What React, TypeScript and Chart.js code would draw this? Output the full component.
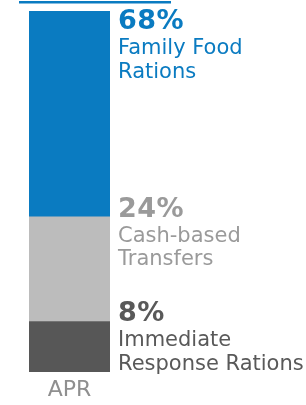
import React, { useEffect, useRef } from "react";
import { Chart, registerables } from "chart.js";

Chart.register(...registerables);

const categories = ["APR"];
const programmes = ["Immediate Response Rations", "Cash-based Transfers", "Family Food Rations"];
const nameLines = [["Immediate", "Response Rations"], ["Cash-based", "Transfers"], ["Family Food", "Rations"]];
const shareLabels = [8, 24, 68];
const barHeights = [14, 29, 57];
const barColors = ["#575757", "#bcbcbc", "#0a7bc1"];
const textColors = ["#595959", "#9a9a9a", "#0a7bc1"];

const labelPlugin = {
  id: "sideLabels",
  afterDatasetsDraw(chart: any) {
    const ctx = chart.ctx;
    const area = chart.chartArea;
    ctx.save();
    // decorative top rule
    ctx.fillStyle = barColors[2];
    ctx.fillRect(area.left - 10, 1, 152, 2.5);
    chart.data.datasets.forEach((ds: any, i: number) => {
      const el = chart.getDatasetMeta(i).data[0];
      if (!el) return;
      const p = el.getProps(["x", "y", "base", "width"], true);
      const top = Math.min(p.y, p.base);
      const x = p.x + p.width / 2 + 8;
      const pctY = Math.max(top, area.top + 18);
      ctx.fillStyle = textColors[i];
      ctx.textAlign = "left";
      ctx.textBaseline = "alphabetic";
      ctx.font = "bold 27px 'DejaVu Sans'";
      (ctx as any).letterSpacing = "0.5px";
      ctx.fillText(shareLabels[i] + "%", x, pctY);
      (ctx as any).letterSpacing = "0px";
      ctx.font = "21px 'DejaVu Sans'";
      nameLines[i].forEach((line, j) => {
        ctx.fillText(line, x, pctY + 25 + j * 23.5);
      });
    });
    ctx.restore();
  },
};

export default function App() {
  const ref = useRef<HTMLCanvasElement>(null);
  useEffect(() => {
    if (!ref.current) return;
    const chart = new Chart(ref.current, {
      type: "bar",
      data: {
        labels: categories,
        datasets: programmes.map((name, i) => ({
          label: name,
          data: [barHeights[i]],
          backgroundColor: barColors[i],
          borderWidth: 0,
          barPercentage: 1,
          categoryPercentage: 1,
        })),
      },
      options: {
        animation: false,
        responsive: false,
        maintainAspectRatio: false,
        layout: { padding: { top: 11, left: 29, right: 196, bottom: 0 } },
        plugins: { legend: { display: false }, tooltip: { enabled: false } },
        scales: {
          x: {
            stacked: true,
            grid: { display: false, drawTicks: false },
            border: { display: false },
            ticks: { color: "#8f8f8f", font: { family: "'DejaVu Sans'", size: 22 }, padding: 5 },
            afterFit: (scale: any) => {
              scale.height = 33;
            },
          },
          y: {
            stacked: true,
            display: false,
            min: 0,
            max: 100,
          },
        },
      },
      plugins: [labelPlugin],
    });
    return () => chart.destroy();
  }, []);
  return (
    <div style={{ position: "absolute", left: 0, top: 0, width: 306, height: 405 }}>
      <canvas ref={ref} width={306} height={405} style={{ width: 306, height: 405 }} />
    </div>
  );
}
